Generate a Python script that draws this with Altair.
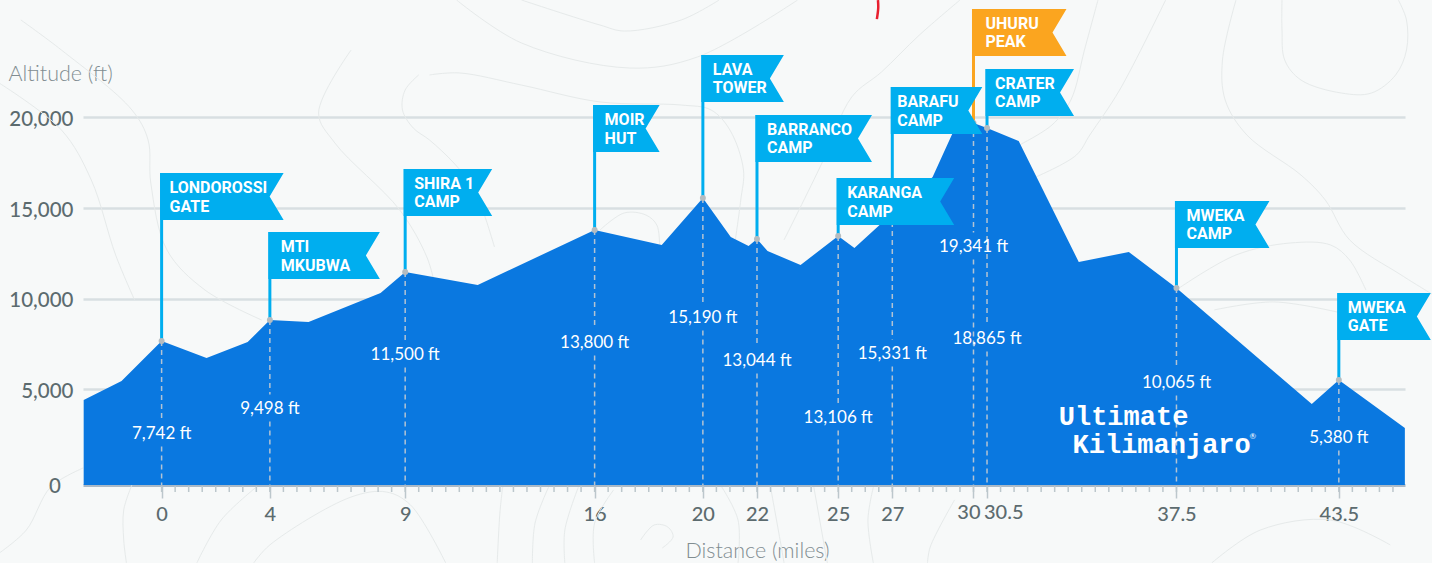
import altair as alt
import pandas as pd

# Elevation profile (miles, feet)
profile_mile = [-2.88,-1.48,0,1.66,3.18,4,5.43,8.09,9,11.68,16,18.48,20,21.03,21.69,22,22.39,23.61,25,25.6,26.53,27,27.98,28.49,29.23,29.64,30,30.5,31.67,33.89,35.74,37.5,42.5,43.5,45.94]
profile_ft = [4412,5460,7666,6728,7611,8824,8714,10313,11471,10754,13788,12960,15552,13401,12905,13291,12629,11857,13457,12795,14063,14725,15994,16710,19137,19633,19689,19413,18696,12023,12574,10589,4191,5515,2868]

# Stops, drawn back to front
stop_name = ["UHURU\nPEAK","CRATER\nCAMP","BARAFU\nCAMP","KARANGA\nCAMP","BARRANCO\nCAMP","LAVA\nTOWER","MOIR\nHUT","SHIRA 1\nCAMP","MTI\nMKUBWA","LONDOROSSI\nGATE","MWEKA\nCAMP","MWEKA\nGATE"]
stop_mile = [30,30.5,27,25,22,20,16,9,4,0,37.5,43.5]
stop_point = [19689,19413,14725,13457,13291,15552,13788,11471,8824,7666,10589,5515]
stop_top = [25976,22667,21674,16655,20130,23439,20681,17152,13677,16931,15387,10313]
stop_width = [93,87,90,116,115,81,65,87,110,122,93,92]
stop_label = ["19,341 ft","18,865 ft","15,331 ft","13,106 ft","13,044 ft","15,190 ft","13,800 ft","11,500 ft","9,498 ft","7,742 ft","10,065 ft","5,380 ft"]
stop_label_alt = [12900,7830,7000,3480,6620,8990,7610,6950,3970,2590,5400,2370]
stop_dx = [12,8,5,9,10,10,10,9,11,8,10,9]

x_major = [0,4,9,16,20,22,25,27,30,30.5,37.5,43.5]
x_minor = [i/2 for i in range(0,92)]
y_ticks = [5000,10000,15000,20000]

# Faint topographic contours behind the chart (miles, feet)
contour_mile = [
 [41.4,41.4,41.5,42.1,43.6,44.7,45.6,46,46,45.7],
 [39.7,39.2,39.3,40.1,42.1,43.0,43.9,45.8,47],
 [37.1,35.4,34.3,33.8,32.3],
 [34.6,34.1,33.6,32.9,31.7],
 [37.6,39.7,41.7,43.2,43.9,44.5],
 [10.9,13.3,17.3,19.8,23.5],
 [13.3,16.2,17.1,19.2,20.6],
 [9.9,11.0,13.3,16.2,19.2,20.3,21.0,21.5,21.4,21.2],
 [16.2,17.1,17.9,18.3,18.4],
 [23,24.4,25.5,26.6,28,29.5],
 [-5.2,-3.7,-1.1,-0.5,-0.4,0.2,1.6,3.7],
 [-6,-3.7,-2.6,-1.7,-1],
 [7,5.8,6.4,8.8,9.8,10.1],
 [9.5,9,8.9,9.3,9.9,10.8,11.5,11.9,12.3],
 [-2.9,-4.1,-5,-6],
 [-1.1,-1.4,-1.4,-1.3],
 [3.5,2.2,1.3],
 [3.4,4,7,8.3,9.2,10.5],
 [12.6,12.5,12.4],
 [14.3,13.8,13.7],
 [15.4,14.9,14.9],
 [16.7,16,16],
 [17.7,18.2,18.7,18.9,18.5],
 [20.7,21.3,21.3],
 [22.5,22.9,23],
 [24.1,24.6],
 [26.3,26.1,26.3],
 [29.3,28.4,28.3],
 [38.9,41.1,43.6],
 [38.8,40.6,43.2,45.4],
]
contour_ft = [
 [26470,24820,23160,22060,21340,21340,22340,23710,25370,26470],
 [26470,23160,20960,19030,16820,15440,13240,11310,10200],
 [26470,21510,19030,17920,16710],
 [26470,23710,20960,19580,18480],
 [10590,12410,13070,12960,12130,10480],
 [26470,24100,22720,23330,26470],
 [26470,25090,24760,25370,26470],
 [22340,22450,21780,20850,20680,20410,19300,17100,15440,13240],
 [13790,14730,14610,14060,12960],
 [13240,17480,21120,22500,24540,26470],
 [25370,23710,20410,18750,16380,12680,10480,8820],
 [21890,19300,16550,12410,9930],
 [23710,20240,18590,14890,12300,10750],
 [22340,21510,20410,19410,18750,17480,16160,14730,12850],
 [660,-390,-2760,-4030],
 [-280,-1650,-3310,-4580],
 [-390,-2210,-4580],
 [-4580,-3580,-940,-660,-1380,-4580],
 [-390,-1820,-4580],
 [-390,-2370,-4580],
 [-390,-2760,-4580],
 [-550,-2370,-4580],
 [-3310,-2480,-2590,-3140,-3750],
 [-390,-2210,-4580],
 [-390,-3700,-4580],
 [-390,-4580],
 [-390,-2210,-4580],
 [-1100,-3700,-4580],
 [9380,9820,9210],
 [-4580,-2760,-2210,-3580],
]

BASE = -276
ABOVE = 26031
AREA = "#0a78e0"; FLAG = "#00aeef"; PEAK = "#fba51f"
TICK = "#5c6b6f"; TITLE = "#818d91"
xs = alt.Scale(domain=[-2.905,45.945], nice=False, zero=False)
ys = alt.Scale(domain=[BASE,ABOVE], nice=False, zero=False)
X = lambda f="mile": alt.X(f"{f}:Q", scale=xs)
Y = lambda f="ft": alt.Y(f"{f}:Q", scale=ys)

def flag_path(w, h=47, notch=14):
    return f"M-1.5 0H{w}L{w-notch} {h/2}L{w} {h}H-1.5Z"

prof = pd.DataFrame({"mile":profile_mile,"ft":profile_ft,"base":BASE})
stops = pd.DataFrame({"name":stop_name,"mile":stop_mile,"point":stop_point,"top":stop_top,
    "label":stop_label,"lab":stop_label_alt,"shape":[flag_path(w) for w in stop_width],"base":BASE})
stops["color"] = [PEAK if n.startswith("UHURU") else FLAG for n in stop_name]
GAP = 745
stops["gap_hi"] = stops["lab"]+GAP
stops["gap_lo"] = stops["lab"]-GAP

rows = []
for k,(ms,fs) in enumerate(zip(contour_mile,contour_ft)):
    for j,(m,f) in enumerate(zip(ms,fs)):
        rows.append({"id":k,"seq":j,"mile":m,"ft":f})
contours = alt.Chart(pd.DataFrame(rows)).mark_line(color="#e6eaea", strokeWidth=1, interpolate="catmull-rom").encode(
    x=X(), y=Y(), detail="id:N", order="seq:Q")

area = alt.Chart(prof).mark_area(color=AREA, opacity=1, line=False).encode(
    x=alt.X("mile:Q", scale=xs, axis=alt.Axis(values=x_major, title="Distance (miles)", titleFont="Lato", titleFontWeight=300,
        titleFontSize=21.5, titleColor=TITLE, titleX=674, titleY=66, titleBaseline="middle", labelFont="Lato", labelFontSize=20, labelColor=TICK,
        labelExpr="datum.value==30||datum.value==30.5?'':format(datum.value,'')", labelOverlap=False, labelFlush=False,
        labelPadding=6, labelFontWeight=500, tickSize=13, tickColor="#bcc7cc", tickWidth=1.5,
        domainColor="#aab9c7", domainWidth=3, grid=False)),
    y=alt.Y("ft:Q", scale=ys, axis=alt.Axis(values=y_ticks, title="Altitude (ft)", titleFont="Lato", titleFontWeight=300,
        titleFontSize=21.5, titleColor=TITLE, titleAngle=0, titleX=-75, titleY=66, titleAlign="left", titleBaseline="middle",
        labelFont="Lato", labelFontSize=20.5, labelFontWeight=500, labelColor=TICK, labelPadding=10, labelOffset=2,
        labelExpr="format(datum.value,',')",
        ticks=False, domain=False, grid=True, gridColor="#d8dfe2", gridWidth=2.5)),
    y2=alt.Y2("base:Q"))

minor = alt.Chart(pd.DataFrame({"mile":x_minor})).mark_rule(color="#bcc7cc", strokeWidth=1.5).encode(
    x=X(), y=alt.value(478), y2=alt.value(484))

dash_top = alt.Chart(stops).mark_rule(color="#b3c3d3", strokeWidth=1.5, strokeDash=[5,4]).encode(
    x=X(), y=Y("point"), y2="gap_hi:Q")
dash_bot = alt.Chart(stops).mark_rule(color="#b3c3d3", strokeWidth=1.5, strokeDash=[5,4]).encode(
    x=X(), y=Y("gap_lo"), y2="base:Q")
alt_text = alt.Chart(stops).mark_text(font="Lato", fontSize=17, color="#ffffff", baseline="middle", dy=1).encode(
    x=X(), y=Y("lab"), text="label:N")

flag_layers = []
for i in range(len(stop_name)):
    d = stops.iloc[[i]]
    pole = alt.Chart(d).mark_rule(strokeWidth=3).encode(x=X(), y=Y("point"), y2="top:Q",
        color=alt.Color("color:N", scale=None))
    dot = alt.Chart(d).mark_circle(color="#b5bcc0", size=36, opacity=1).encode(x=X(), y=Y("point"))
    flag = alt.Chart(d).mark_point(filled=True, opacity=1, size=4).encode(x=X(), y=Y("top"),
        shape=alt.Shape("shape:N", scale=None, legend=None), color=alt.Color("color:N", scale=None))
    txt = alt.Chart(d).mark_text(font="Roboto", fontWeight="bold", fontSize=16, color="#ffffff",
        align="left", baseline="top", lineBreak="\n", lineHeight=18.5, dx=stop_dx[i], dy=7).encode(
        x=X(), y=Y("top"), text="name:N")
    flag_layers += [pole, dot, flag, txt]

near = alt.Chart(pd.DataFrame({"mile":[30],"t":["30"]})).mark_text(font="Lato", fontSize=20, fontWeight=500, color=TICK,
    align="right", baseline="middle", dx=7, dy=1).encode(x=X(), y=alt.value(504), text="t:N")
far = alt.Chart(pd.DataFrame({"mile":[30.5],"t":["30.5"]})).mark_text(font="Lato", fontSize=20, fontWeight=500, color=TICK,
    align="left", baseline="middle", dx=-3, dy=1).encode(x=X(), y=alt.value(504), text="t:N")
zero = alt.Chart(pd.DataFrame({"ft":[BASE],"t":["0"]})).mark_text(font="Lato", fontSize=20.5, fontWeight=500, color=TICK,
    align="right", baseline="middle", dy=2).encode(x=alt.value(-22), y=Y(), text="t:N")

logo = alt.Chart(pd.DataFrame({"mile":[33.15,33.66],"ft":[3470,1930],"t":["Ultimate","Kilimanjaro"]})).mark_text(
    font="Liberation Mono", fontWeight="bold", fontSize=27, color="#ffffff", align="left", baseline="middle").encode(
    x=X(), y=Y(), text="t:N")
reg = alt.Chart(pd.DataFrame({"mile":[40.2],"ft":[2370],"t":["®"]})).mark_text(font="Lato", fontSize=8, color="#ffffff",
    align="left", baseline="middle").encode(x=X(), y=Y(), text="t:N")

red = alt.Chart(pd.DataFrame({"s":[0,1,2],"mile":[26.47,26.48,26.43],"ft":[26470,26030,25420]})).mark_line(
    color="#e8202f", strokeWidth=2.5, interpolate="catmull-rom").encode(x=X(), y=Y(), order="s:Q")

chart = alt.layer(contours, area, minor, dash_top, dash_bot, alt_text, *flag_layers, near, far, zero, logo, reg, red).properties(
    width=1322, height=477, background="#f7f9f9",
    padding={"left":83,"top":8,"right":27,"bottom":78},
    autosize=alt.AutoSizeParams(type="none"),
).configure_view(stroke=None)

chart.save("out.html", embed_options={"renderer":"svg","actions":False,
    "defaultStyle":"html,body{margin:0;overflow:hidden;background:#f7f9f9}"})
